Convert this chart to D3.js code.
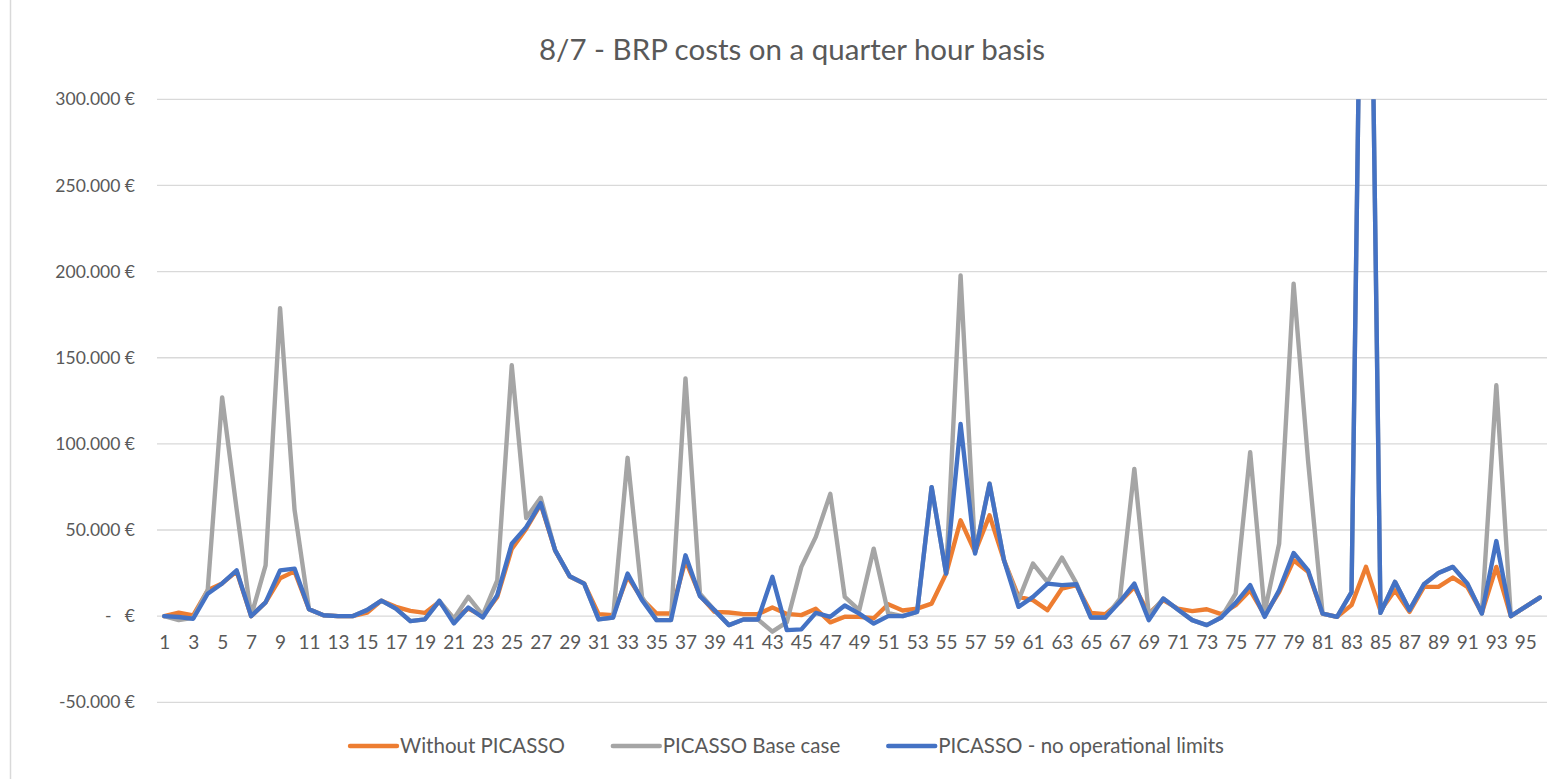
<!DOCTYPE html>
<html>
<head>
<meta charset="utf-8">
<script src="https://cdn.jsdelivr.net/npm/d3@7"></script>
<style>
  html, body { margin: 0; padding: 0; background: #fff; }
  svg text { font-family: Lato, "Liberation Sans", Arial, sans-serif; fill: #595959; }
</style>
</head>
<body>
<svg id="chart" width="1553" height="779"></svg>
<script>
// Quarter-hour periods of the day (1..96)
const periods = d3.range(1, 97);

// BRP cost per quarter hour, in euro
const withoutPicasso = [
  0, 2000, 500, 15000, 19000, 26000, 0, 8000, 22000, 26000,
  4000, 500, 0, 0, 2000, 9000, 5400, 3100, 1900, 8300,
  -1400, 4400, 0, 11200, 39000, 50800, 65000, 38000, 23000, 19000,
  1200, 600, 23000, 10000, 1500, 1500, 32400, 12000, 2500, 2100,
  1200, 1200, 5000, 1300, 600, 4300, -3600, -300, -400, -1200,
  6900, 3300, 4400, 7300, 24700, 55600, 37200, 58500, 32400, 11200,
  9300, 3500, 16000, 18000, 1900, 1200, 8300, 17000, 1500, 9300,
  4400, 2900, 4000, 1200, 6400, 15000, 600, 14000, 32400, 25700,
  1500, -400, 6400, 28600, 3100, 15000, 2500, 17000, 17000, 22400,
  17000, 1900, 28600, 0, 5400, 10800
];

const picassoBase = [
  0, -2300, -1000, 15000, 127000, 62000, 0, 29500, 178800, 61700,
  4000, 500, 0, 0, 3500, 9000, 4400, -2900, -1900, 8900,
  -1500, 11200, 600, 20800, 145600, 57000, 68700, 38200, 23200, 18900,
  -1900, -800, 91900, 11000, -2300, -2300, 138000, 13000, 3500, -5200,
  -1900, -1900, -9000, -3500, 28600, 46000, 71000, 11200, 3500, 39200,
  1700, 0, 2500, 74900, 24700, 197800, 37000, 77000, 32400, 9300,
  30500, 19900, 34000, 19000, -800, -800, 10000, 85500, 600, 10200,
  3900, -2300, -5200, -800, 13100, 95100, 2500, 42000, 193000, 90000,
  1500, -400, 14000, 620000, 1900, 19900, 3500, 18500, 25000, 28600,
  18900, 1500, 134000, 0, 5400, 10800
];

const picassoNoLimits = [
  0, -500, -1500, 13000, 19000, 26600, 0, 8000, 26600, 27600,
  4000, 500, 0, 0, 3500, 9000, 4400, -2900, -1900, 8900,
  -4200, 5000, -800, 12200, 42000, 51700, 65600, 38200, 23200, 18900,
  -1900, -800, 24700, 9300, -2300, -2300, 35300, 11600, 3500, -5200,
  -1900, -1900, 22800, -8100, -7700, 1900, -400, 6200, 1500, -4300,
  0, 0, 2500, 74900, 24700, 111600, 36300, 76800, 32400, 5400,
  11200, 18900, 18000, 18500, -800, -800, 8300, 18900, -2300, 10200,
  3900, -2300, -5200, -800, 7700, 18000, -400, 15000, 36700, 26600,
  1500, -400, 14000, 620000, 1900, 19900, 3500, 18500, 25000, 28600,
  18900, 1500, 43600, 0, 5400, 10800
];

const seriesNames = ["Without PICASSO", "PICASSO Base case", "PICASSO - no operational limits"];
const seriesColors = ["#ED7D31", "#A5A5A5", "#4472C4"];
const yTicks = [-50000, 0, 50000, 100000, 150000, 200000, 250000, 300000];
const xTickLabels = periods.filter(p => p % 2 === 1);
const chartTitle = "8/7 - BRP costs on a quarter hour basis";

const series = [withoutPicasso, picassoBase, picassoNoLimits].map((values, i) => ({
  name: seriesNames[i],
  color: seriesColors[i],
  values: values.map((v, j) => ({ period: periods[j], value: v }))
}));

const svg = d3.select("#chart");
const plot = { left: 157, right: 1547, top: 99.3, bottom: 702.3 };

const x = d3.scaleBand().domain(periods).range([plot.left, plot.right]).padding(0);
const xc = p => x(p) + x.bandwidth() / 2;
const y = d3.scaleLinear().domain([-50000, 300000]).range([plot.bottom, plot.top]);

// outer chart border (left edge)
svg.append("line")
  .attr("x1", 10.5).attr("x2", 10.5).attr("y1", 0).attr("y2", 779)
  .attr("stroke", "#d9d9d9").attr("stroke-width", 1.5);

// title
svg.append("text")
  .attr("x", 792).attr("y", 60)
  .attr("text-anchor", "middle")
  .style("font-size", "29.5px")
  .text(chartTitle);

// horizontal gridlines
svg.append("g").selectAll("line")
  .data(yTicks)
  .join("line")
  .attr("x1", plot.left).attr("x2", plot.right)
  .attr("y1", d => y(d)).attr("y2", d => y(d))
  .attr("stroke", "#d9d9d9").attr("stroke-width", 1.3);

// y axis labels in accounting style (thousands separated by ".")
const fmtEuro = d => {
  if (d === 0) return "-\u00a0\u00a0\u00a0€";
  const body = d3.format(",")(Math.abs(d)).replace(/,/g, ".");
  return (d < 0 ? "-" : "") + body + " €";
};
const yAxis = d3.axisLeft(y).tickValues(yTicks).tickFormat(fmtEuro).tickSize(0).tickPadding(0);
const gy = svg.append("g").attr("transform", "translate(135,0)").call(yAxis);
gy.select(".domain").remove();
gy.selectAll("text").style("font-size", "17.5px").style("font-family", null).attr("fill", "#595959");

// x axis labels at the zero line
const xAxis = d3.axisBottom(d3.scalePoint().domain(periods).range([xc(1), xc(96)]))
  .tickValues(xTickLabels).tickSize(0).tickPadding(0);
const gx = svg.append("g").attr("transform", `translate(0,${y(0) + 19})`).call(xAxis);
gx.select(".domain").remove();
gx.selectAll("text").style("font-size", "19px").style("font-family", null).attr("fill", "#595959");

// lines, clipped to the plot area
svg.append("clipPath").attr("id", "plotClip")
  .append("rect")
  .attr("x", plot.left - 10).attr("y", plot.top)
  .attr("width", plot.right - plot.left + 20).attr("height", plot.bottom - plot.top);

const line = d3.line().x(d => xc(d.period)).y(d => y(d.value));
svg.append("g").attr("clip-path", "url(#plotClip)")
  .selectAll("path")
  .data(series)
  .join("path")
  .attr("d", d => line(d.values))
  .attr("fill", "none")
  .attr("stroke", d => d.color)
  .attr("stroke-width", 4.4)
  .attr("stroke-linejoin", "round")
  .attr("stroke-linecap", "round");

// legend
const legend = svg.append("g");
const legendItems = legend.selectAll("g").data(series).join("g");
legendItems.append("line")
  .attr("x1", 0).attr("x2", 47).attr("y1", 0).attr("y2", 0)
  .attr("stroke", d => d.color).attr("stroke-width", 4.4).attr("stroke-linecap", "round");
legendItems.append("text")
  .attr("x", 50).attr("y", 0).attr("dy", "0.35em")
  .style("font-size", "20.5px")
  .text(d => d.name);
let cursor = 0;
legendItems.each(function () {
  const g = d3.select(this);
  g.attr("transform", `translate(${cursor},0)`);
  cursor += 50 + g.select("text").node().getComputedTextLength() + 48;
});
const legendWidth = cursor - 48;
legend.attr("transform", `translate(${787 - legendWidth / 2},746)`);
</script>
</body>
</html>
